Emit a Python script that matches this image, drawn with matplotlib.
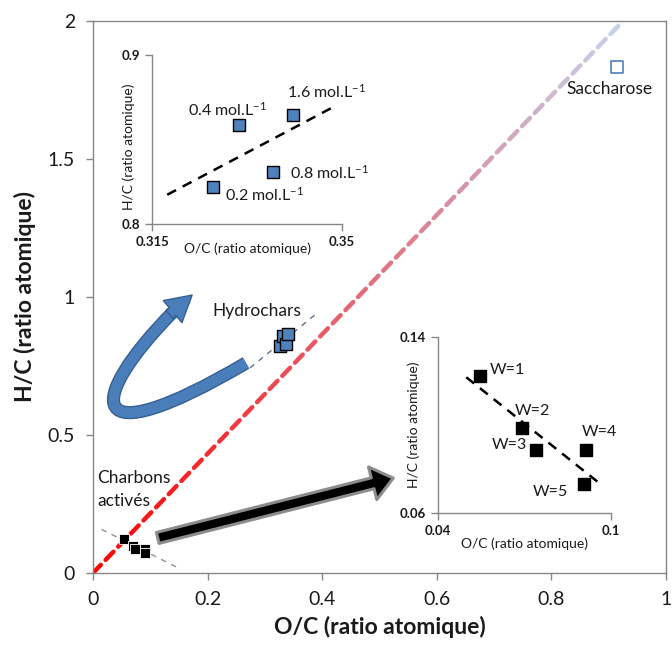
import matplotlib
matplotlib.use("Agg")
import matplotlib.pyplot as plt
import numpy as np
from matplotlib.patches import FancyArrowPatch, PathPatch
from matplotlib.path import Path
from matplotlib.collections import LineCollection
from matplotlib.ticker import FuncFormatter
import matplotlib.patheffects as pe

plt.rcParams['font.family'] = ['Lato', 'DejaVu Sans']
plt.rcParams['mathtext.fontset'] = 'custom'
plt.rcParams['mathtext.rm'] = 'Lato'
plt.rcParams['mathtext.default'] = 'rm'

# Hydrochars (O/C, H/C) pour chaque concentration
hydro_labels = ["0.2 mol.L$^{-1}$", "0.4 mol.L$^{-1}$", "0.8 mol.L$^{-1}$", "1.6 mol.L$^{-1}$"]
hydro_oc = [0.3262, 0.3310, 0.3372, 0.3410]
hydro_hc = [0.8217, 0.8587, 0.8305, 0.8646]
hydro_trend_x = [0.3178, 0.3488]
hydro_trend_y = [0.8173, 0.8699]
hydro_trend_ext = [0.274, 0.393]

# Charbons actives
charb_labels = ["W=1", "W=2", "W=3", "W=4", "W=5"]
charb_oc = [0.0545, 0.0693, 0.0739, 0.0915, 0.0906]
charb_hc = [0.1221, 0.0985, 0.0886, 0.0886, 0.0734]
charb_trend_x = [0.0498, 0.0964]
charb_trend_y = [0.1217, 0.0731]
charb_trend_ext = [0.015, 0.145]

# Saccharose
sacch_oc = [0.915]
sacch_hc = [1.834]

# droite de deshydratation
diag_x = [0.0, 0.925]
diag_y = [0.0, 2.0]

# positions des etiquettes de texte (coordonnees des donnees)
hydro_lab_pos = [(0.3284, 0.8172), (0.3216, 0.8675), (0.3404, 0.8302), (0.3399, 0.8781)]
charb_lab_pos = [(0.0580, 0.1250), (0.0667, 0.1064), (0.0587, 0.0909), (0.0899, 0.0968), (0.0730, 0.0695)]

BLEU = '#4f81bd'
GRIS = '#868686'
TXT = '#1a1a1a'


def trend(xs, ys, xe):
    # prolonge la droite de tendance
    a = (ys[1] - ys[0]) / (xs[1] - xs[0])
    return [ys[0] + a * (x - xs[0]) for x in xe]


def style_axes(ax, ticksize, color=GRIS):
    for s in ax.spines.values():
        s.set_color(color)
        s.set_linewidth(1.0)
    ax.tick_params(direction='out', color=color, length=5, width=1.0,
                   labelcolor=TXT, labelsize=ticksize)


fig = plt.figure(figsize=(6.72, 6.54), dpi=100)
ax = fig.add_axes([93/672, 81/654, 573/672, 552/654])
ax.set_xlim(0, 1)
ax.set_ylim(0, 2)
ax.set_xticks(np.arange(0, 1.01, 0.2))
ax.set_yticks(np.arange(0, 2.01, 0.5))
fmt = FuncFormatter(lambda v, p: "%g" % round(v, 2))
ax.xaxis.set_major_formatter(fmt)
ax.yaxis.set_major_formatter(fmt)
style_axes(ax, 14)
ax.tick_params(pad=8)
ax.set_xlabel("O/C (ratio atomique)", fontsize=16.5, fontweight='bold', color=TXT, labelpad=6)
ax.set_ylabel("H/C (ratio atomique)", fontsize=16.5, fontweight='bold', color=TXT, labelpad=8)

# ligne pointillee en degrade rouge -> bleu clair
n_dash = 42
c0 = np.array([1.0, 0.0, 0.0])
c1 = np.array([198, 212, 239]) / 255.
segs = []
cols = []
for i in range(n_dash):
    t0 = i / n_dash
    t1 = t0 + 0.62 / n_dash
    segs.append([(diag_x[0] + t0 * (diag_x[1] - diag_x[0]), diag_y[0] + t0 * (diag_y[1] - diag_y[0])),
                 (diag_x[0] + t1 * (diag_x[1] - diag_x[0]), diag_y[0] + t1 * (diag_y[1] - diag_y[0]))])
    tm = (t0 + t1) / 2
    cols.append(c0 + (c1 - c0) * tm)
ax.add_collection(LineCollection(segs, colors=cols, linewidths=3.2, capstyle='round', zorder=2))

# droites de tendance prolongees
ax.plot(hydro_trend_ext, trend(hydro_trend_x, hydro_trend_y, hydro_trend_ext),
        ls=(0, (4, 4)), color='#5d7390', lw=1.0, zorder=3)
ax.plot(charb_trend_ext, trend(charb_trend_x, charb_trend_y, charb_trend_ext),
        ls=(0, (4, 4)), color='#909090', lw=1.0, zorder=3)

# points
ax.scatter(hydro_oc, hydro_hc, marker='s', s=70, c=BLEU, edgecolors='black', linewidths=1.0, zorder=5)
ax.scatter(charb_oc, charb_hc, marker='s', s=55, c='black', edgecolors='white', linewidths=0.6, zorder=5)
ax.scatter(sacch_oc, sacch_hc, marker='s', s=75, facecolors='white', edgecolors=BLEU, linewidths=1.2, zorder=5)

ax.text(0.209, 0.949, "Hydrochars", fontsize=12.5, color=TXT, ha='left', va='center')
ax.text(0.007, 0.301, "Charbons\nactivés", fontsize=12.5, color=TXT, ha='left', va='center', linespacing=1.55)
ax.text(0.827, 1.754, "Saccharose", fontsize=12.5, color=TXT, ha='left', va='center')

# fleche courbe bleue : corps en bezier + pointe
corps = Path([(0.267, 0.761), (-0.020, 0.410), (-0.012, 0.627), (0.1396, 0.9457)],
             [Path.MOVETO, Path.CURVE4, Path.CURVE4, Path.CURVE4])
pp = PathPatch(corps, fill=False, ec='#4a7ebb', lw=7.5, capstyle='butt', zorder=4,
               path_effects=[pe.Stroke(linewidth=9.5, foreground='#365f91', capstyle='butt'), pe.Normal()])
ax.add_patch(pp)
pointe = FancyArrowPatch((0.1332, 0.9370), (0.173, 1.007),
                         arrowstyle='simple,head_length=1.0,head_width=1.13,tail_width=0.4',
                         mutation_scale=18.4, fc='#4a7ebb', ec='#365f91', lw=1.0,
                         shrinkA=0, shrinkB=0, zorder=4)
ax.add_patch(pointe)

# fleche noire
fl2 = FancyArrowPatch((0.113, 0.127), (0.524, 0.344),
                      arrowstyle='simple,head_length=0.85,head_width=1.35,tail_width=0.45',
                      mutation_scale=18, fc='black', ec='#8c8c8c', lw=2.2,
                      shrinkA=0, shrinkB=0, zorder=4)
ax.add_patch(fl2)

# encart hydrochars
ax1 = fig.add_axes([152/672, 430/654, 190/672, 169/654])
ax1.patch.set_alpha(0)
ax1.set_xlim(0.315, 0.35)
ax1.set_ylim(0.8, 0.9)
ax1.set_xticks([0.315, 0.35])
ax1.set_yticks([0.8, 0.9])
ax1.set_xticklabels(["0.315", "0.35"], fontweight='bold')
ax1.set_yticklabels(["0.8", "0.9"], fontweight='bold')
ax1.spines['top'].set_visible(False)
ax1.spines['right'].set_visible(False)
style_axes(ax1, 9.5)
ax1.plot(hydro_trend_x, hydro_trend_y, ls=(0, (4, 3)), color='black', lw=1.8, zorder=3)
ax1.scatter(hydro_oc, hydro_hc, marker='s', s=70, c=BLEU, edgecolors='black', linewidths=1.0, zorder=5)
for lab, (x, y) in zip(hydro_labels, hydro_lab_pos):
    ax1.text(x, y, lab, fontsize=11.5, color=TXT, ha='left', va='center')
ax1.set_xlabel("O/C (ratio atomique)", fontsize=10, color=TXT)
ax1.set_ylabel("H/C (ratio atomique)", fontsize=10, color=TXT)
ax1.xaxis.set_label_coords(0.5, -0.11)
ax1.yaxis.set_label_coords(-0.09, 0.46)

# encart charbons
ax2 = fig.add_axes([438/672, 141/654, 173/672, 176/654])
ax2.patch.set_alpha(0)
ax2.set_xlim(0.04, 0.1)
ax2.set_ylim(0.06, 0.14)
ax2.set_xticks([0.04, 0.1])
ax2.set_yticks([0.06, 0.14])
ax2.set_xticklabels(["0.04", "0.1"], fontweight='bold')
ax2.set_yticklabels(["0.06", "0.14"], fontweight='bold')
ax2.spines['top'].set_visible(False)
ax2.spines['right'].set_visible(False)
style_axes(ax2, 9.5)
ax2.plot(charb_trend_x, charb_trend_y, ls=(0, (4, 3)), color='black', lw=1.8, zorder=3)
ax2.scatter(charb_oc, charb_hc, marker='s', s=70, c='black', zorder=5)
for lab, (x, y) in zip(charb_labels, charb_lab_pos):
    ax2.text(x, y, lab, fontsize=11.5, color=TXT, ha='left', va='center')
ax2.set_xlabel("O/C (ratio atomique)", fontsize=10, color=TXT)
ax2.set_ylabel("H/C (ratio atomique)", fontsize=10, color=TXT)
ax2.xaxis.set_label_coords(0.5, -0.14)
ax2.yaxis.set_label_coords(-0.105, 0.5)

fig.savefig("out.png", dpi=100)
